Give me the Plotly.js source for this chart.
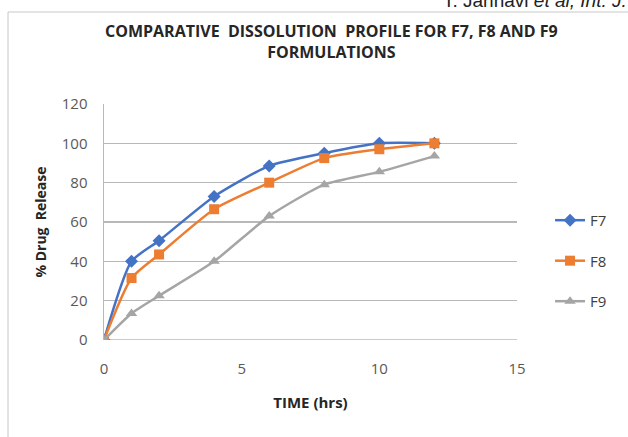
<!DOCTYPE html>
<html><head><meta charset="utf-8">
<script src="https://cdn.plot.ly/plotly-3.0.1.min.js"></script>
<style>body{margin:0;background:#fff}#c{width:628px;height:437px}</style>
</head><body><div id="c"></div>
<script>
const time = [0, 1, 2, 4, 6, 8, 10, 12];
const f7 = [0, 40, 50.5, 73, 88.5, 95, 100, 100];
const f8 = [0, 31.5, 43.5, 66.5, 80, 92.5, 97, 100];
const f9 = [0, 13.5, 22.5, 40, 63, 79, 85.5, 93.5];
const seriesNames = ['F7', 'F8', 'F9'];
const xTicks = [0, 5, 10, 15];
const yTicks = [0, 20, 40, 60, 80, 100, 120];

const font = "'Open Sans','Liberation Sans',sans-serif";
function tr(y, name, color, symbol, size, grp){
  return {x: time, y: y, name: name, type: 'scatter', mode: 'lines+markers',
    line: {color: color, width: 2.5, shape: 'spline', smoothing: 0.6},
    marker: {color: color, symbol: symbol, size: size},
    legendgroup: grp};
}
const data = [
  tr(f7, seriesNames[0], '#4472c4', 'diamond', 10, 'a'),
  tr(f8, seriesNames[1], '#ed7d31', 'square', 10, 'b'),
  tr(f9, seriesNames[2], '#a5a5a5', 'triangle-up', 10, 'c')
];
const layout = {
  width: 628, height: 437,
  margin: {l: 104, r: 111, t: 104, b: 97},
  paper_bgcolor: '#fff', plot_bgcolor: '#fff',
  font: {family: font, color: '#595959', size: 15},
  showlegend: true,
  legend: {x: 1.08, y: 0.335, xanchor: 'left', yanchor: 'middle', tracegroupgap: 18,
    font: {size: 15, color: '#404040'}, bgcolor: 'rgba(0,0,0,0)'},
  xaxis: {range: [0, 15], tickvals: xTicks, ticktext: xTicks.map(String), showgrid: false,
    zeroline: false, showline: false, ticks: '', ticklen: 0, ticklabelstandoff: 18,
    tickfont: {size: 15, color: '#595959'},
    title: {text: '<b>TIME (hrs)</b>', font: {size: 15, color: '#262626'}, standoff: 20}},
  yaxis: {range: [0, 120], tickvals: yTicks, showgrid: true, gridcolor: '#b8b8b8', gridwidth: 1.5,
    zeroline: false, showline: true, linecolor: '#b8b8b8', linewidth: 1.5, ticks: '',
    ticklabelstandoff: 12,
    tickfont: {size: 15, color: '#595959'},
    title: {text: '<b>% Drug  Release</b>', font: {size: 14, color: '#262626'}, standoff: 12}},
  shapes: [
    {type: 'rect', xref: 'paper', yref: 'paper', x0: -0.2324, x1: 1.4, y0: -0.6, y1: 1.3898,
     line: {color: '#c8c8c8', width: 1}, fillcolor: 'rgba(0,0,0,0)', layer: 'below'},
    {type: 'line', xref: 'paper', yref: 'y', x0: 0, x1: 1, y0: 0, y1: 0,
     line: {color: '#b8b8b8', width: 1.5}, layer: 'below'}
  ],
  annotations: [
    {text: '<b>COMPARATIVE  DISSOLUTION  PROFILE FOR F7, F8 AND F9</b><br><b>FORMULATIONS</b>',
     xref: 'paper', yref: 'paper', x: 0.552, y: 1.365, xanchor: 'center', yanchor: 'top',
     showarrow: false, font: {size: 16, color: '#262626'}},
    {text: 'T. Jahnavi <i>et al, Int. J. Med</i>', xref: 'paper', yref: 'paper',
     x: 0.815, y: 1.385, xanchor: 'left', yanchor: 'bottom', showarrow: false,
     font: {family: "'Liberation Sans','Open Sans',sans-serif", size: 19, color: '#222'}}
  ]
};
Plotly.newPlot('c', data, layout, {displayModeBar: false, staticPlot: true});
</script></body></html>
